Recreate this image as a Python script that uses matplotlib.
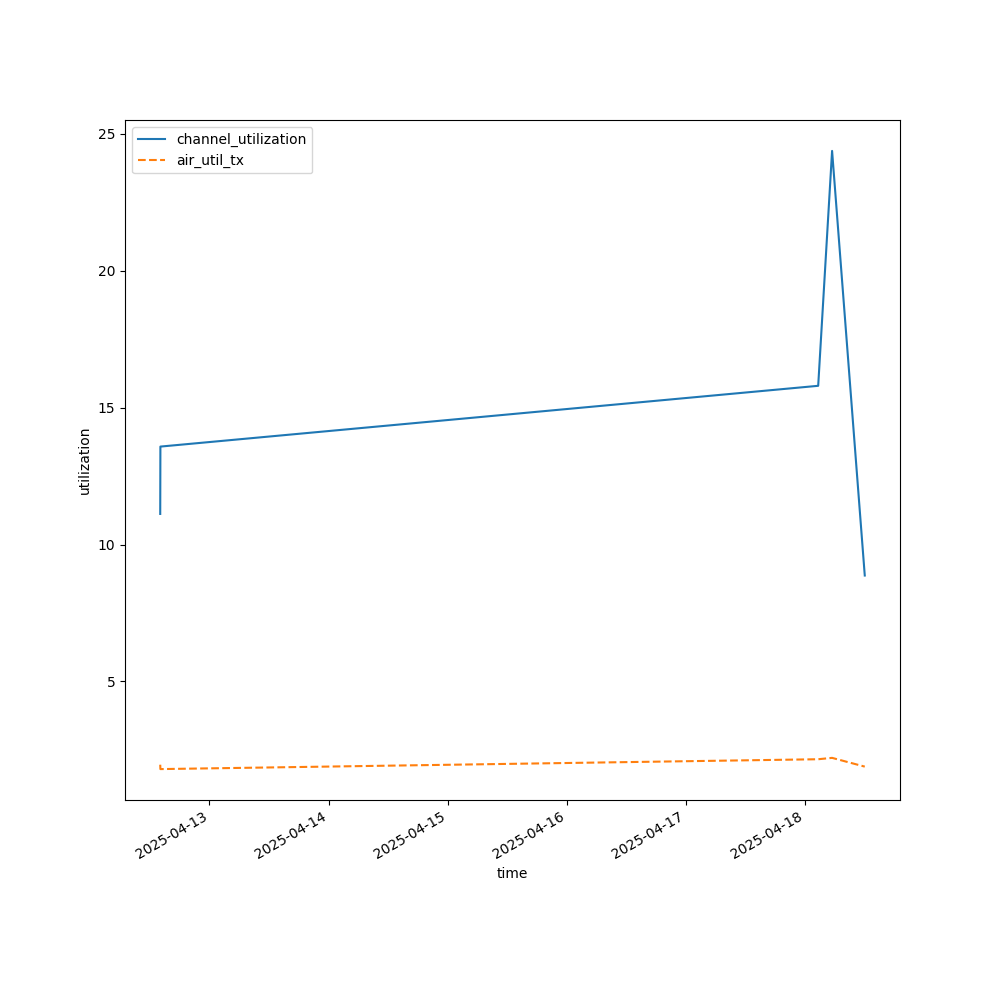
import pandas as pd
import matplotlib
matplotlib.use("Agg")
import matplotlib.pyplot as plt

# valores
tiempos = pd.to_datetime([
    "2025-04-12 14:05",
    "2025-04-12 14:07",
    "2025-04-18 02:37",
    "2025-04-18 05:25",
    "2025-04-18 12:00",
])
channel_utilization = [11.12, 13.58, 15.80, 24.38, 8.87]
air_util_tx = [1.96, 1.80, 2.16, 2.21, 1.89]

fig, ax = plt.subplots(figsize=(10, 10), dpi=100)

ax.plot(tiempos, channel_utilization, linestyle="-", label="channel_utilization")
ax.plot(tiempos, air_util_tx, linestyle="--", label="air_util_tx")

ax.set_xlabel("time")
ax.set_ylabel("utilization")
ax.legend(loc="upper left")
fig.autofmt_xdate()

fig.savefig("out.png")
